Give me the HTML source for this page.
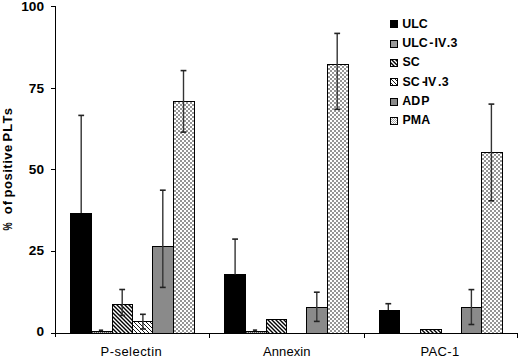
<!DOCTYPE html>
<html><head><meta charset="utf-8"><style>
html,body{margin:0;padding:0;background:#fff;width:520px;height:358px;overflow:hidden}
svg{display:block}
text{font-family:"Liberation Sans",sans-serif;fill:#000}
.yt{font-size:12.4px;font-weight:bold;text-anchor:end}
.lg{font-size:12.4px;font-weight:bold}
.xl{font-size:13px}
.yl{font-size:13px;font-weight:bold}
</style></head><body>
<svg width="520" height="358" viewBox="0 0 520 358">
<defs>
<pattern id="pSC" width="4" height="4" patternUnits="userSpaceOnUse"><rect width="4" height="4" fill="#fff"/><path d="M0,0 L4,4 M-1,3 L1,5 M3,-1 L5,1" stroke="#000" stroke-width="1.4"/></pattern>
<pattern id="pSCIV" width="4" height="4" patternUnits="userSpaceOnUse"><rect width="4" height="4" fill="#fff"/><path d="M0,0 L4,4 M-1,3 L1,5 M3,-1 L5,1" stroke="#000" stroke-width="0.9"/></pattern>
<pattern id="pSCl" width="3" height="3" patternUnits="userSpaceOnUse"><rect width="3" height="3" fill="#fff"/><path d="M0,0 L3,3 M-1,2 L1,4 M2,-1 L4,1" stroke="#000" stroke-width="1.3"/></pattern>
<pattern id="pSCIVl" width="3" height="3" patternUnits="userSpaceOnUse"><rect width="3" height="3" fill="#fff"/><path d="M0,0 L3,3 M-1,2 L1,4 M2,-1 L4,1" stroke="#000" stroke-width="0.9"/></pattern>
<pattern id="pPMA" width="4" height="4" patternUnits="userSpaceOnUse"><rect width="4" height="4" fill="#fff"/><rect width="2" height="2" fill="#959595"/><rect x="2" y="2" width="2" height="2" fill="#959595"/></pattern>
<pattern id="pPMAl" width="2" height="2" patternUnits="userSpaceOnUse"><rect width="2" height="2" fill="#fff"/><rect width="1" height="1" fill="#aaa"/><rect x="1" y="1" width="1" height="1" fill="#aaa"/></pattern>
<pattern id="pIV" width="2" height="2" patternUnits="userSpaceOnUse"><rect width="2" height="2" fill="#bbb"/><rect width="1" height="1" fill="#555"/><rect x="1" y="1" width="1" height="1" fill="#555"/></pattern>
</defs>
<g stroke="#000" stroke-width="1" shape-rendering="crispEdges">
<line x1="55.5" y1="6" x2="55.5" y2="337"/>
<line x1="51" y1="333.5" x2="518" y2="333.5"/>
<line x1="209.5" y1="333" x2="209.5" y2="338"/>
<line x1="364.5" y1="333" x2="364.5" y2="338"/>
<line x1="517.5" y1="333" x2="517.5" y2="338"/>
<line x1="51" y1="6.5" x2="55" y2="6.5"/><line x1="51" y1="88.5" x2="55" y2="88.5"/><line x1="51" y1="169.5" x2="55" y2="169.5"/><line x1="51" y1="251.5" x2="55" y2="251.5"/><line x1="51" y1="333.5" x2="55" y2="333.5"/>
</g>
<text transform="translate(44,11.1) scale(1.1,1)" class="yt">100</text><text transform="translate(44,92.8) scale(1.1,1)" class="yt">75</text><text transform="translate(44,173.8) scale(1.1,1)" class="yt">50</text><text transform="translate(44,255.4) scale(1.1,1)" class="yt">25</text><text transform="translate(44,336.1) scale(1.1,1)" class="yt">0</text>
<g shape-rendering="crispEdges"><rect x="70.5" y="213.5" width="21" height="120" fill="#000" stroke="#000" stroke-width="1"/><rect x="91.5" y="331.5" width="21" height="2" fill="url(#pIV)" stroke="#000" stroke-width="1"/><rect x="112.5" y="304.5" width="20" height="29" fill="url(#pSC)" stroke="#000" stroke-width="1"/><rect x="132.5" y="321.5" width="20" height="12" fill="url(#pSCIV)" stroke="#000" stroke-width="1"/><rect x="152.5" y="246.5" width="21" height="87" fill="#8a8a8a" stroke="#000" stroke-width="1"/><rect x="173.5" y="101.5" width="21" height="232" fill="url(#pPMA)" stroke="#000" stroke-width="1"/><rect x="224.5" y="274.5" width="21" height="59" fill="#000" stroke="#000" stroke-width="1"/><rect x="245.5" y="331.5" width="21" height="2" fill="url(#pIV)" stroke="#000" stroke-width="1"/><rect x="266.5" y="319.5" width="20" height="14" fill="url(#pSC)" stroke="#000" stroke-width="1"/><rect x="306.5" y="307.5" width="21" height="26" fill="#8a8a8a" stroke="#000" stroke-width="1"/><rect x="327.5" y="64.5" width="21" height="269" fill="url(#pPMA)" stroke="#000" stroke-width="1"/><rect x="379.5" y="310.5" width="20" height="23" fill="#000" stroke="#000" stroke-width="1"/><rect x="420.5" y="329.5" width="21" height="4" fill="url(#pSC)" stroke="#000" stroke-width="1"/><rect x="461.5" y="307.5" width="20" height="26" fill="#8a8a8a" stroke="#000" stroke-width="1"/><rect x="481.5" y="152.5" width="21" height="181" fill="url(#pPMA)" stroke="#000" stroke-width="1"/></g>
<g><line x1="81.2" y1="115.4" x2="81.2" y2="213" stroke="#333" stroke-width="1.4"/><line x1="78.3" y1="115.4" x2="84.10000000000001" y2="115.4" stroke="#222" stroke-width="1.6"/><line x1="101" y1="330.2" x2="101" y2="331" stroke="#333" stroke-width="1.4"/><line x1="98.9" y1="330.2" x2="103.1" y2="330.2" stroke="#222" stroke-width="1.6"/><line x1="122.2" y1="289.5" x2="122.2" y2="315.4" stroke="#333" stroke-width="1.4"/><line x1="119.3" y1="289.5" x2="125.10000000000001" y2="289.5" stroke="#222" stroke-width="1.6"/><line x1="119.3" y1="315.4" x2="125.10000000000001" y2="315.4" stroke="#222" stroke-width="1.6"/><line x1="142.9" y1="314.3" x2="142.9" y2="329" stroke="#333" stroke-width="1.4"/><line x1="140.0" y1="314.3" x2="145.8" y2="314.3" stroke="#222" stroke-width="1.6"/><line x1="140.0" y1="329" x2="145.8" y2="329" stroke="#222" stroke-width="1.6"/><line x1="162.8" y1="190.2" x2="162.8" y2="287.4" stroke="#333" stroke-width="1.4"/><line x1="159.9" y1="190.2" x2="165.70000000000002" y2="190.2" stroke="#222" stroke-width="1.6"/><line x1="159.9" y1="287.4" x2="165.70000000000002" y2="287.4" stroke="#222" stroke-width="1.6"/><line x1="183.5" y1="70.6" x2="183.5" y2="132.1" stroke="#333" stroke-width="1.4"/><line x1="180.6" y1="70.6" x2="186.4" y2="70.6" stroke="#222" stroke-width="1.6"/><line x1="180.6" y1="132.1" x2="186.4" y2="132.1" stroke="#222" stroke-width="1.6"/><line x1="235.1" y1="239.1" x2="235.1" y2="274.5" stroke="#333" stroke-width="1.4"/><line x1="232.2" y1="239.1" x2="238.0" y2="239.1" stroke="#222" stroke-width="1.6"/><line x1="255" y1="330.1" x2="255" y2="331" stroke="#333" stroke-width="1.4"/><line x1="252.9" y1="330.1" x2="257.1" y2="330.1" stroke="#222" stroke-width="1.6"/><line x1="316.8" y1="292.2" x2="316.8" y2="321.4" stroke="#333" stroke-width="1.4"/><line x1="313.90000000000003" y1="292.2" x2="319.7" y2="292.2" stroke="#222" stroke-width="1.6"/><line x1="313.90000000000003" y1="321.4" x2="319.7" y2="321.4" stroke="#222" stroke-width="1.6"/><line x1="337.2" y1="33.4" x2="337.2" y2="109.3" stroke="#333" stroke-width="1.4"/><line x1="334.3" y1="33.4" x2="340.09999999999997" y2="33.4" stroke="#222" stroke-width="1.6"/><line x1="334.3" y1="109.3" x2="340.09999999999997" y2="109.3" stroke="#222" stroke-width="1.6"/><line x1="388.3" y1="303.7" x2="388.3" y2="310" stroke="#333" stroke-width="1.4"/><line x1="385.40000000000003" y1="303.7" x2="391.2" y2="303.7" stroke="#222" stroke-width="1.6"/><line x1="471.4" y1="289.6" x2="471.4" y2="324.5" stroke="#333" stroke-width="1.4"/><line x1="468.5" y1="289.6" x2="474.29999999999995" y2="289.6" stroke="#222" stroke-width="1.6"/><line x1="468.5" y1="324.5" x2="474.29999999999995" y2="324.5" stroke="#222" stroke-width="1.6"/><line x1="491.4" y1="104.1" x2="491.4" y2="200.8" stroke="#333" stroke-width="1.4"/><line x1="488.5" y1="104.1" x2="494.29999999999995" y2="104.1" stroke="#222" stroke-width="1.6"/><line x1="488.5" y1="200.8" x2="494.29999999999995" y2="200.8" stroke="#222" stroke-width="1.6"/></g>
<g shape-rendering="crispEdges"><rect x="390.5" y="20.5" width="7" height="7" fill="#000" stroke="#000"/><rect x="390.5" y="40.5" width="7" height="7" fill="#999" stroke="#000"/><rect x="390.5" y="59.5" width="7" height="7" fill="url(#pSC)" stroke="#000"/><rect x="390.5" y="78.5" width="7" height="7" fill="url(#pSCIV)" stroke="#000"/><rect x="390.5" y="98.5" width="7" height="7" fill="#8a8a8a" stroke="#000"/><rect x="390.5" y="117.5" width="7" height="7" fill="url(#pPMAl)" stroke="#000"/></g>
<text class="lg" x="402.2" y="27.8">ULC</text><text class="lg" y="47.1"><tspan x="402.2">ULC</tspan><tspan x="429.3">-</tspan><tspan x="434.6">IV</tspan><tspan x="446.8">.</tspan><tspan x="450.4">3</tspan></text><text class="lg" x="402.4" y="66.2">SC</text><text class="lg" y="85.6"><tspan x="402.6">SC</tspan><tspan x="422.1">-</tspan><tspan x="424.6">IV</tspan><tspan x="437.9">.</tspan><tspan x="441.8">3</tspan></text><text class="lg" y="105"><tspan x="402.2">AD</tspan><tspan x="421.2">P</tspan></text><text class="lg" x="402.6" y="124.2">PMA</text>
<text class="yl" textLength="13.4" lengthAdjust="spacing" transform="translate(12.1,214.2) rotate(-90)">of</text><text class="yl" textLength="52.6" lengthAdjust="spacing" transform="translate(12.1,197.4) rotate(-90)">positive</text><text class="yl" textLength="33.6" lengthAdjust="spacing" transform="translate(12.1,141.6) rotate(-90)">PLTs</text>
<text class="yl" transform="translate(12.2,230.6) rotate(-90) scale(0.7,1)">%</text>
<text class="xl" x="100.6" y="356.4" letter-spacing="0.45">P-selectin</text>
<text class="xl" x="263" y="356.4" letter-spacing="0.1">Annexin</text>
<text class="xl" x="420.4" y="356.4" letter-spacing="0.4">PAC-1</text>
</svg>
</body></html>
